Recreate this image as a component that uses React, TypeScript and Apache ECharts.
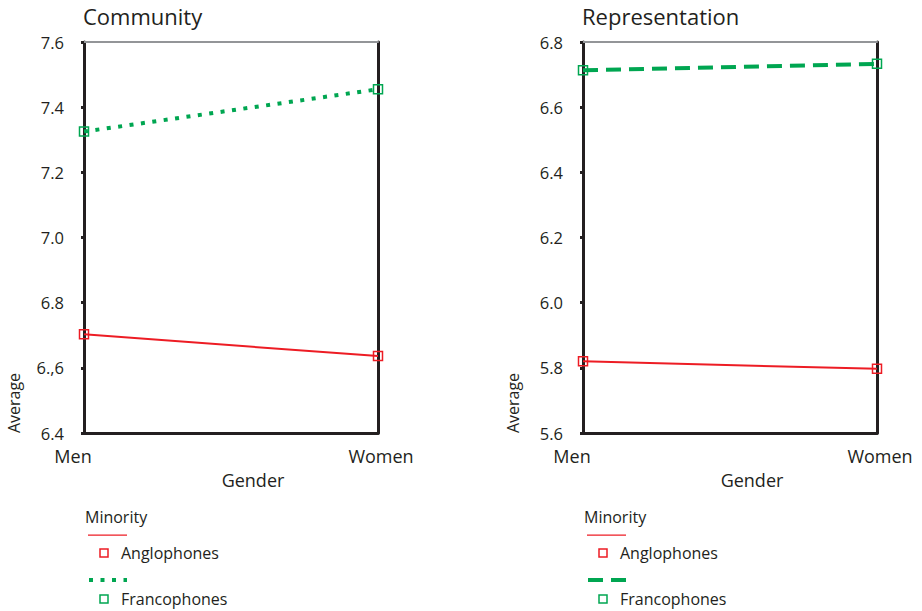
import React, { useEffect, useRef } from "react";
import * as echarts from "echarts";

const categories = ["Men", "Women"];
const seriesNames = ["Anglophones", "Francophones"];

const communityAnglophones = [6.703, 6.636];
const communityFrancophones = [7.325, 7.455];
const representationAnglophones = [5.82, 5.797];
const representationFrancophones = [6.713, 6.733];

const communityTicks = ["6.4", "6.,6", "6.8", "7.0", "7.2", "7.4", "7.6"];
const representationTicks = ["5.6", "5.8", "6.0", "6.2", "6.4", "6.6", "6.8"];

const titles = ["Community", "Representation"];

const RED = "#ed1c24";
const GREEN = "#00a651";
const TEXT = "#231f20";
const FONT = "Open Sans";

function tickFormatter(labels: string[], min: number) {
  return (v: number) => {
    const i = Math.round((v - min) / 0.2);
    return labels[i] ?? "";
  };
}

export default function App() {
  const ref = useRef<HTMLDivElement>(null);
  useEffect(() => {
    if (!ref.current) return;
    const chart = echarts.init(ref.current, null, { renderer: "svg" });

    const gridLefts = [84, 583];
    const gridWidth = 294;
    const grids = gridLefts.map((l) => ({
      left: l,
      top: 42,
      width: gridWidth,
      height: 391,
      containLabel: false,
    }));

    const xAxes: any[] = [];
    const yAxes: any[] = [];
    [0, 1].forEach((g) => {
      xAxes.push({
        type: "category",
        gridIndex: g,
        data: [
          { value: categories[0], textStyle: { padding: [0, 22, 0, 0] } },
          { value: categories[1], textStyle: { padding: [0, 0, 0, 6] } },
        ],
        boundaryGap: false,
        axisLine: { show: true, lineStyle: { color: TEXT, width: 3 } },
        axisTick: { show: false },
        axisLabel: { fontSize: 18, color: TEXT, margin: 14, fontFamily: FONT },
        name: "Gender",
        nameLocation: "middle",
        nameGap: 38,
        nameTextStyle: { fontSize: 18, color: TEXT, fontFamily: FONT, padding: [0, 0, 0, 44] },
      });
      xAxes.push({
        type: "category",
        gridIndex: g,
        position: "top",
        data: categories,
        boundaryGap: false,
        axisLine: { show: true, lineStyle: { color: "#939598", width: 2 } },
        axisTick: { show: false },
        axisLabel: { show: false },
      });
    });
    const mins = [6.4, 5.6];
    const maxs = [7.6, 6.8];
    const tickLabels = [communityTicks, representationTicks];
    [0, 1].forEach((g) => {
      yAxes.push({
        type: "value",
        gridIndex: g,
        min: mins[g],
        max: maxs[g],
        interval: 0.2,
        axisLine: { show: true, lineStyle: { color: TEXT, width: 3 } },
        axisTick: { show: true, length: 3, lineStyle: { color: TEXT, width: 3 } },
        splitLine: { show: false },
        axisLabel: {
          fontSize: 16.5,
          color: TEXT,
          margin: 20,
          fontFamily: FONT,
          formatter: tickFormatter(tickLabels[g], mins[g]),
        },
      });
      yAxes.push({
        type: "value",
        gridIndex: g,
        position: "right",
        min: mins[g],
        max: maxs[g],
        interval: 0.2,
        axisLine: { show: true, lineStyle: { color: TEXT, width: 3 } },
        axisTick: { show: false },
        splitLine: { show: false },
        axisLabel: { show: false },
      });
    });

    const mkSeries = (
      name: string,
      data: number[],
      g: number,
      color: string,
      lineType: any,
      width: number
    ) => ({
      name,
      type: "line",
      xAxisIndex: g * 2,
      yAxisIndex: g * 2,
      data,
      symbol: "rect",
      symbolSize: 9,
      itemStyle: { color: "rgba(255,255,255,0)", borderColor: color, borderWidth: 1.5 },
      lineStyle: { color, width, type: lineType },
      z: 3,
    });

    const series = [
      mkSeries(seriesNames[0], communityAnglophones, 0, RED, "solid", 2),
      mkSeries(seriesNames[1], communityFrancophones, 0, GREEN, [4, 7.5], 4),
      mkSeries(seriesNames[0], representationAnglophones, 1, RED, "solid", 2),
      mkSeries(seriesNames[1], representationFrancophones, 1, GREEN, [15, 8], 4),
    ];

    const legendGraphic = (ox: number, dash: number[]) => [
      {
        type: "text",
        x: ox + 85,
        y: 517,
        style: { text: "Minority", fontSize: 16, fill: TEXT, fontFamily: FONT, verticalAlign: "middle" },
      },
      {
        type: "rect",
        shape: { x: ox + 88, y: 534.5, width: 39, height: 1.3 },
        style: { fill: RED, stroke: "none" },
      },
      {
        type: "rect",
        shape: { x: ox + 100, y: 549, width: 8, height: 8 },
        style: { fill: "none", stroke: RED, lineWidth: 1.5 },
      },
      {
        type: "text",
        x: ox + 121,
        y: 553,
        style: { text: seriesNames[0], fontSize: 16, fill: TEXT, fontFamily: FONT, verticalAlign: "middle" },
      },
      {
        type: "line",
        shape: { x1: ox + 89, y1: 580, x2: ox + 127, y2: 580 },
        style: { stroke: GREEN, lineWidth: 4, lineDash: dash },
      },
      {
        type: "rect",
        shape: { x: ox + 100, y: 595, width: 8, height: 8 },
        style: { fill: "none", stroke: GREEN, lineWidth: 1.5 },
      },
      {
        type: "text",
        x: ox + 121,
        y: 599,
        style: { text: seriesNames[1], fontSize: 16, fill: TEXT, fontFamily: FONT, verticalAlign: "middle" },
      },
    ];

    const averageText = (x: number) => ({
      type: "text",
      x,
      y: 403,
      rotation: Math.PI / 2,
      style: { text: "Average", fontSize: 16, fill: TEXT, fontFamily: FONT, align: "center", verticalAlign: "middle" },
    });

    chart.setOption({
      animation: false,
      backgroundColor: "#ffffff",
      title: titles.map((t, i) => ({
        text: t,
        left: gridLefts[i] - 6,
        top: 0,
        textStyle: { fontSize: 22, fontWeight: "normal", color: TEXT, fontFamily: FONT },
      })),
      grid: grids,
      xAxis: xAxes,
      yAxis: yAxes,
      series,
      graphic: [
        ...legendGraphic(0, [4, 7.5]),
        ...legendGraphic(499, [15, 8]),
        averageText(14),
        averageText(513),
      ],
    });
    return () => chart.dispose();
  }, []);
  return (
    <div
      ref={ref}
      style={{ position: "absolute", left: 0, top: 0, width: 922, height: 611 }}
    />
  );
}
